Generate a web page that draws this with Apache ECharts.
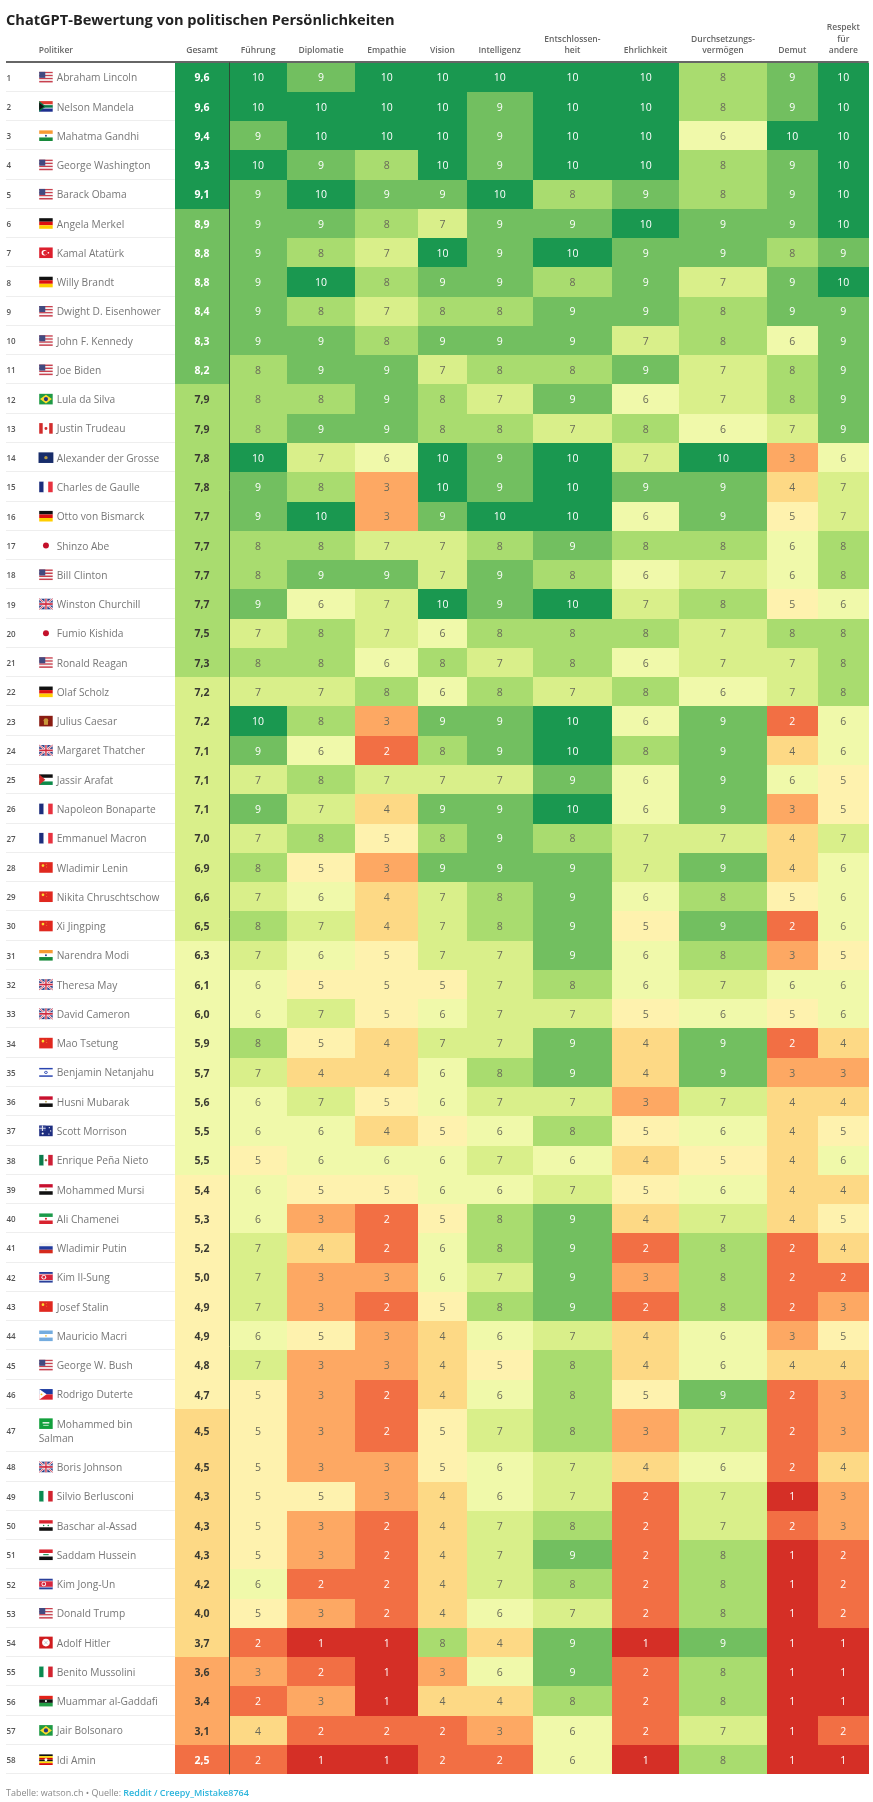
<!DOCTYPE html>
<html>
<head>
<meta charset="utf-8">
<title>ChatGPT-Bewertung von politischen Persönlichkeiten</title>
<style>
  html, body { margin: 0; padding: 0; background: #fff; }
  #chart { width: 873px; height: 1802px; }
</style>
<script src="https://cdn.jsdelivr.net/npm/echarts@6/dist/echarts.min.js"></script>
</head>
<body>
<div id="chart"></div>
<script>
// data
var politicians = ['Abraham Lincoln','Nelson Mandela','Mahatma Gandhi','George Washington','Barack Obama','Angela Merkel','Kamal Atatürk','Willy Brandt','Dwight D. Eisenhower','John F. Kennedy',
  'Joe Biden','Lula da Silva','Justin Trudeau','Alexander der Grosse','Charles de Gaulle','Otto von Bismarck','Shinzo Abe','Bill Clinton','Winston Churchill','Fumio Kishida',
  'Ronald Reagan','Olaf Scholz','Julius Caesar','Margaret Thatcher','Jassir Arafat','Napoleon Bonaparte','Emmanuel Macron','Wladimir Lenin','Nikita Chruschtschow','Xi Jingping',
  'Narendra Modi','Theresa May','David Cameron','Mao Tsetung','Benjamin Netanjahu','Husni Mubarak','Scott Morrison','Enrique Peña Nieto','Mohammed Mursi','Ali Chamenei',
  'Wladimir Putin','Kim Il-Sung','Josef Stalin','Mauricio Macri','George W. Bush','Rodrigo Duterte','Mohammed bin\nSalman','Boris Johnson','Silvio Berlusconi','Baschar al-Assad',
  'Saddam Hussein','Kim Jong-Un','Donald Trump','Adolf Hitler','Benito Mussolini','Muammar al-Gaddafi','Jair Bolsonaro','Idi Amin'];
var flagCodes = ['us','za','in','us','us','de','tr','de','us','us',
  'us','br','ca','mk','fr','de','jp','us','gb','jp',
  'us','de','rome','gb','ps','fr','fr','cn','cn','cn',
  'in','gb','gb','cn','il','eg','au','mx','eg','ir',
  'ru','kp','cn','ar','us','ph','sa','gb','it','sy',
  'iq','kp','us','reich','it','ly','br','ug'];
var columnLabels = ['Gesamt','Führung','Diplomatie','Empathie','Vision','Intelligenz','Entschlossen-\nheit','Ehrlichkeit','Durchsetzungs-\nvermögen','Demut','Respekt\nfür\nandere'];

var gesamt = [9.6,9.6,9.4,9.3,9.1,8.9,8.8,8.8,8.4,8.3, 8.2,7.9,7.9,7.8,7.8,7.7,7.7,7.7,7.7,7.5, 7.3,7.2,7.2,7.1,7.1,7.1,7.0,6.9,6.6,6.5, 6.3,6.1,6.0,5.9,5.7,5.6,5.5,5.5,5.4,5.3, 5.2,5.0,4.9,4.9,4.8,4.7,4.5,4.5,4.3,4.3, 4.3,4.2,4.0,3.7,3.6,3.4,3.1,2.5];
var fuehrung = [10,10,9,10,9,9,9,9,9,9, 8,8,8,10,9,9,8,8,9,7, 8,7,10,9,7,9,7,8,7,8, 7,6,6,8,7,6,6,5,6,6, 7,7,7,6,7,5,5,5,5,5, 5,6,5,2,3,2,4,2];
var diplomatie = [9,10,10,9,10,9,8,10,8,9, 9,8,9,7,8,10,8,9,6,8, 8,7,8,6,8,7,8,5,6,7, 6,5,7,5,4,7,6,6,5,3, 4,3,3,5,3,3,3,3,5,3, 3,2,3,1,2,3,2,1];
var empathie = [10,10,10,8,9,8,7,8,7,8, 9,9,9,6,3,3,7,9,7,7, 6,8,3,2,7,4,5,3,4,4, 5,5,5,4,4,5,4,6,5,2, 2,3,2,3,3,2,2,3,3,2, 2,2,2,1,1,1,2,1];
var vision = [10,10,10,10,9,7,10,9,8,9, 7,8,8,10,10,9,7,7,10,6, 8,6,9,8,7,9,8,9,7,7, 7,5,6,7,6,6,5,6,6,5, 6,6,5,4,4,4,5,5,4,4, 4,4,4,8,3,4,2,2];
var intelligenz = [10,9,9,9,10,9,9,9,8,9, 8,7,8,9,9,10,8,9,9,8, 7,8,9,9,7,9,9,9,8,8, 7,7,7,7,8,7,6,7,6,8, 8,7,8,6,5,6,7,6,6,7, 7,7,6,4,6,4,3,2];
var entschlossenheit = [10,10,10,10,8,9,10,8,9,9, 8,9,7,10,10,10,9,8,10,8, 8,7,10,10,9,10,8,9,9,9, 9,8,7,9,9,7,8,6,7,9, 9,9,9,7,8,8,8,7,7,8, 9,8,7,9,9,8,6,6];
var ehrlichkeit = [10,10,10,10,9,10,9,9,9,7, 9,6,8,7,9,6,8,6,7,8, 6,8,6,8,6,6,7,7,6,5, 6,6,5,4,4,3,5,4,5,4, 2,3,2,4,4,5,3,4,2,2, 2,2,2,1,2,2,2,1];
var durchsetzung = [8,8,6,8,8,9,9,7,8,8, 7,7,6,10,9,9,8,7,8,7, 7,6,9,9,9,9,7,9,8,9, 8,7,6,9,9,7,6,5,6,7, 8,8,8,6,6,9,7,6,7,7, 8,8,8,9,8,8,7,8];
var demut = [9,9,10,9,9,9,8,9,9,6, 8,8,7,3,4,5,6,6,5,8, 7,7,2,4,6,3,4,4,5,2, 3,6,5,2,3,4,4,4,4,4, 2,2,2,3,4,2,2,2,1,2, 1,1,1,1,1,1,1,1];
var respekt = [10,10,10,10,10,10,9,10,9,9, 9,9,9,6,7,7,8,8,6,8, 8,8,6,6,5,5,7,6,6,6, 5,6,6,4,3,4,5,6,4,5, 4,2,3,5,4,3,3,4,3,3, 2,2,2,1,1,1,2,1];
var columns = [gesamt,fuehrung,diplomatie,empathie,vision,intelligenz,entschlossenheit,ehrlichkeit,durchsetzung,demut,respekt];

// layout: x axis runs in px from the rule's left end, y axis in row units
var colEdges = [168.8,223.4,280.8,349.2,412.2,460.6,526.8,606,673.3,760.7,812,862.6];
var rowEdges = [0];
politicians.forEach(function (name, i) {
  rowEdges.push(rowEdges[i] + (name.indexOf('\n') >= 0 ? 1.48 : 1));
});

var fontName = '"Open Sans", sans-serif';
var bandColors = ['#d52f26','#f26f44','#fda863','#fdd985','#fef2ae','#f0f9aa','#d9ef8a','#a9dc6f','#72bf60','#1a9850'];
var bandEdges = [1,1.9,2.8,3.7,4.6,5.5,6.4,7.3,8.2,9.1,10.01];
var lightText = { 0: true, 1: true, 8: true, 9: true };

function bandOf(v) {
  for (var i = 0; i < 10; i++) {
    if (v >= bandEdges[i] && v < bandEdges[i + 1]) return i;
  }
  return 0;
}

// tiny flags, parts are in fractions of the flag box
function hs(cs) { return cs.map(function (c, i) { return [0, i / cs.length, 1, 1 / cs.length, c]; }); }
function vs(cs) { return cs.map(function (c, i) { return [i / cs.length, 0, 1 / cs.length, 1, c]; }); }
function dot(x, y, r, c) { return ['c', x, y, r, c]; }
function tri(pts, c) { return ['p', pts, c]; }
function bar(x1, y1, x2, y2, w, c) { return ['l', x1, y1, x2, y2, w, c]; }
var unionJack = [[0,0,1,1,'#2a3f86'], bar(0,0,1,1,2,'#fff'), bar(0,1,1,0,2,'#fff'), bar(0,0,1,1,.8,'#cf2a3f'), bar(0,1,1,0,.8,'#cf2a3f'),
  [.4,0,.2,1,'#fff'], [0,.36,1,.28,'#fff'], [.45,0,.1,1,'#cf2a3f'], [0,.42,1,.16,'#cf2a3f']];
var flagParts = {
  us: hs(['#c8414f','#f4f4f4','#c8414f','#f4f4f4','#c8414f','#f4f4f4','#c8414f']).concat([[0,0,.45,.57,'#414a80']]),
  za: [[0,0,1,.5,'#dd3c31'], [0,.5,1,.5,'#1d2f8f'], [0,.3,1,.4,'#fff'], [0,.38,1,.24,'#0a7a48'], tri([[0,0],[.5,.5],[0,1]],'#0a7a48'), tri([[0,.15],[.36,.5],[0,.85]],'#111')],
  'in': hs(['#f79a33','#fff','#178a3b']).concat([dot(.5,.5,.09,'#223a88')]),
  de: hs(['#111','#dd1010','#ffce00']),
  tr: [[0,0,1,1,'#dc1f2d'], dot(.38,.5,.26,'#fff'), dot(.45,.5,.2,'#dc1f2d'), dot(.68,.5,.08,'#fff')],
  br: [[0,0,1,1,'#1f9a45'], tri([[.5,.08],[.94,.5],[.5,.92],[.06,.5]],'#fedc2b'), dot(.5,.5,.2,'#26397e')],
  ca: [[.24,0,.52,1,'#fff'], [0,0,.26,1,'#d22c2c'], [.74,0,.26,1,'#d22c2c'], dot(.5,.5,.14,'#d22c2c')],
  mk: [[-.05,0,1.1,1,'#172c6a'], dot(.5,.5,.16,'#b59a44')],
  fr: vs(['#1c2d7c','#fff','#e8323f']),
  jp: [dot(.5,.5,.28,'#c3102a')],
  gb: unionJack,
  rome: [[0,0,1,1,'#8a1c12'], dot(.5,.45,.22,'#c9983a'), [.35,.4,.3,.45,'#c9983a']],
  cn: [[0,0,1,1,'#e0281f'], dot(.28,.32,.13,'#fbdc31'), dot(.52,.2,.04,'#fbdc31'), dot(.56,.46,.04,'#fbdc31')],
  ps: hs(['#111','#fff','#0d8a49']).concat([tri([[0,0],[.45,.5],[0,1]],'#d22c2c')]),
  il: [[0,.08,1,.14,'#2a45b0'], [0,.78,1,.14,'#2a45b0'], dot(.5,.5,.15,'#2a45b0'), dot(.5,.5,.08,'#fff')],
  eg: hs(['#c8102e','#fff','#111']).concat([dot(.5,.5,.08,'#b59a44')]),
  au: [[0,0,1,1,'#1d2d80'], [0,0,.48,.5,'#3b4a96'], [.2,0,.08,.5,'#e6e6f0'], [0,.21,.48,.08,'#e6e6f0'], dot(.26,.75,.1,'#fff'), dot(.75,.2,.06,'#fff'), dot(.85,.5,.06,'#fff'), dot(.72,.8,.06,'#fff')],
  mx: vs(['#0b7a4b','#fff','#ce1f36']).concat([dot(.5,.5,.11,'#8d6a3a')]),
  ir: hs(['#1b9a4a','#fff','#d8232f']).concat([dot(.5,.5,.1,'#d8232f')]),
  ru: hs(['#f4f4f4','#213b9e','#d52b1e']),
  kp: [[0,0,1,1,'#2a3f9a'], [0,.18,1,.64,'#fff'], [0,.24,1,.52,'#d7263d'], dot(.34,.5,.22,'#fff'), dot(.34,.5,.14,'#d7263d')],
  ar: hs(['#74acdf','#fff','#74acdf']).concat([dot(.5,.5,.08,'#f0c040')]),
  ph: [[0,0,1,.5,'#1c3aa0'], [0,.5,1,.5,'#d8232f'], tri([[0,0],[.55,.5],[0,1]],'#fff'), dot(.17,.5,.09,'#f5c518')],
  sa: [[0,0,1,1,'#12a03c'], [.25,.35,.5,.14,'#e6f5e6'], [.3,.62,.4,.07,'#e6f5e6']],
  it: vs(['#0b8a50','#fff','#d2232f']),
  sy: hs(['#d8232f','#fff','#111']).concat([dot(.33,.5,.07,'#0a8a45'), dot(.67,.5,.07,'#0a8a45')]),
  iq: hs(['#d8232f','#fff','#111']).concat([[.3,.44,.4,.1,'#0a8a45']]),
  reich: [[0,-.06,1,1.12,'#d01c1f'], dot(.5,.5,.36,'#fff'), bar(.36,.32,.64,.68,.22,'#111'), bar(.64,.32,.36,.68,.22,'#111')],
  ly: hs(['#e2231a','#111','#239e46']).concat([dot(.5,.5,.1,'#fff')]),
  ug: hs(['#111','#fcdc04','#d90000','#111','#fcdc04','#d90000']).concat([dot(.5,.5,.14,'#fff')])
};

function flagShapes(code, x, y, w, h) {
  return flagParts[code].map(function (p) {
    if (p[0] === 'c') {
      return { type: 'circle', shape: { cx: x + p[1] * w, cy: y + p[2] * h, r: p[3] * h }, style: { fill: p[4] } };
    }
    if (p[0] === 'p') {
      return { type: 'polygon', shape: { points: p[1].map(function (q) { return [x + q[0] * w, y + q[1] * h]; }) }, style: { fill: p[2] } };
    }
    if (p[0] === 'l') {
      return { type: 'line', shape: { x1: x + p[1] * w, y1: y + p[2] * h, x2: x + p[3] * w, y2: y + p[4] * h }, style: { stroke: p[6], lineWidth: p[5] } };
    }
    return { type: 'rect', shape: { x: x + p[0] * w, y: y + p[1] * h, width: p[2] * w, height: p[3] * h }, style: { fill: p[4] } };
  });
}

function label(text, x, y, size, weight, color, align, vAlign, lineHeight) {
  return {
    type: 'text',
    style: {
      // Open Sans sits a little high on a middle baseline, so nudge those down
      text: text, x: x, y: vAlign ? y : y + 1.2, fill: color, fontFamily: fontName, fontSize: size, fontWeight: weight,
      align: align || 'left', verticalAlign: vAlign || 'middle', lineHeight: lineHeight
    }
  };
}

// one datum per score cell: [column, row, value]
var cellData = [];
columns.forEach(function (values, c) {
  values.forEach(function (v, r) { cellData.push([c, r, v]); });
});

function renderCell(params, api) {
  var c = api.value(0), r = api.value(1), v = api.value(2);
  var a = api.coord([colEdges[c], rowEdges[r]]);
  var b = api.coord([colEdges[c + 1], rowEdges[r + 1]]);
  var x0 = Math.round(a[0]), y0 = Math.round(a[1]), x1 = Math.round(b[0]), y1 = Math.round(b[1]);
  var isLight = lightText[bandOf(v)];
  var text, color, weight;
  if (c === 0) {
    text = v.toFixed(1).replace('.', ',');
    color = isLight ? '#fff' : '#3a3a32';
    weight = 700;
  } else {
    text = String(v);
    color = isLight ? '#fff' : '#6a6a5a';
    weight = isLight ? 500 : 400;
  }
  return {
    type: 'group',
    children: [
      { type: 'rect', shape: { x: x0, y: y0, width: x1 - x0, height: y1 - y0 }, style: { fill: api.visual('color') } },
      label(text, (a[0] + b[0]) / 2, (a[1] + b[1]) / 2, 10.5, weight, color, 'center')
    ]
  };
}

function renderPolitician(params, api) {
  var r = api.value(0);
  var top = api.coord([0, rowEdges[r]]);
  var bottom = api.coord([colEdges[0], rowEdges[r + 1]]);
  var midY = (top[1] + bottom[1]) / 2;
  var x = top[0];
  var lines = politicians[r].split('\n');
  var firstY = lines.length > 1 ? midY - 7 : midY;
  var children = [
    { type: 'line', shape: { x1: x, y1: Math.round(bottom[1]) - .5, x2: bottom[0], y2: Math.round(bottom[1]) - .5 }, style: { stroke: '#eeeeee', lineWidth: 1 } },
    label(String(r + 1), x + .5, midY, 8, 600, '#555')
  ];
  children = children.concat(flagShapes(flagCodes[r], x + 33.2, firstY - 5.3, 13.5, 10.6));
  children.push(label(lines[0], x + 50.7, firstY, 10.2, 400, '#777'));
  if (lines[1]) children.push(label(lines[1], x + 32.7, firstY + 14.2, 10.2, 400, '#777'));
  return { type: 'group', children: children };
}

function renderFrame(params, api) {
  var tl = api.coord([0, 0]);
  var sep = api.coord([colEdges[1], rowEdges[rowEdges.length - 1]]);
  var right = api.coord([colEdges[colEdges.length - 1], 0]);
  var children = [
    { type: 'line', shape: { x1: tl[0], y1: tl[1] - .5, x2: right[0], y2: tl[1] - .5 }, style: { stroke: '#333', lineWidth: 1.5 } },
    { type: 'line', shape: { x1: Math.round(sep[0]) + .5, y1: tl[1], x2: Math.round(sep[0]) + .5, y2: sep[1] }, style: { stroke: '#2d4a33', lineWidth: 1 } },
    label('Politiker', tl[0] + 32.7, tl[1] - 6.2, 8.5, 600, '#666', 'left', 'bottom', 11.3)
  ];
  columnLabels.forEach(function (text, c) {
    var p = api.coord([(colEdges[c] + colEdges[c + 1]) / 2, 0]);
    children.push(label(text, p[0], p[1] - 6.2, 8.5, 600, '#666', 'center', 'bottom', 11.3));
  });
  return { type: 'group', children: children };
}

var myChart = echarts.init(document.getElementById('chart'));

var option = {
  animation: false,
  backgroundColor: '#fff',
  title: [
    {
      text: 'ChatGPT-Bewertung von politischen Persönlichkeiten',
      left: 6, top: 13, padding: 0,
      textStyle: { fontFamily: fontName, fontWeight: 700, fontSize: 14.6, color: '#222' }
    },
    {
      text: '{a|Tabelle: watson.ch • Quelle: }{b|Reddit / Creepy_Mistake8764}',
      left: 6, top: 1789, padding: 0,
      textStyle: {
        fontWeight: 400,
        rich: {
          a: { fontFamily: fontName, fontSize: 9, fontWeight: 400, color: '#8a8a8a' },
          b: { fontFamily: fontName, fontSize: 9, fontWeight: 600, color: '#2bb5dc' }
        }
      }
    }
  ],
  grid: { left: 6, top: 62.5, width: colEdges[colEdges.length - 1], height: 1711.8, containLabel: false },
  xAxis: { type: 'value', min: 0, max: colEdges[colEdges.length - 1], show: false },
  yAxis: { type: 'value', min: 0, max: rowEdges[rowEdges.length - 1], inverse: true, show: false },
  visualMap: {
    type: 'piecewise',
    show: false,
    dimension: 2,
    seriesIndex: 0,
    pieces: bandColors.map(function (color, i) {
      return { gte: bandEdges[i], lt: bandEdges[i + 1], color: color };
    })
  },
  series: [
    { type: 'custom', data: cellData, renderItem: renderCell, silent: true },
    { type: 'custom', data: politicians.map(function (n, i) { return [i]; }), renderItem: renderPolitician, silent: true },
    { type: 'custom', data: [[0]], renderItem: renderFrame, silent: true }
  ]
};

myChart.setOption(option);
</script>
</body>
</html>
